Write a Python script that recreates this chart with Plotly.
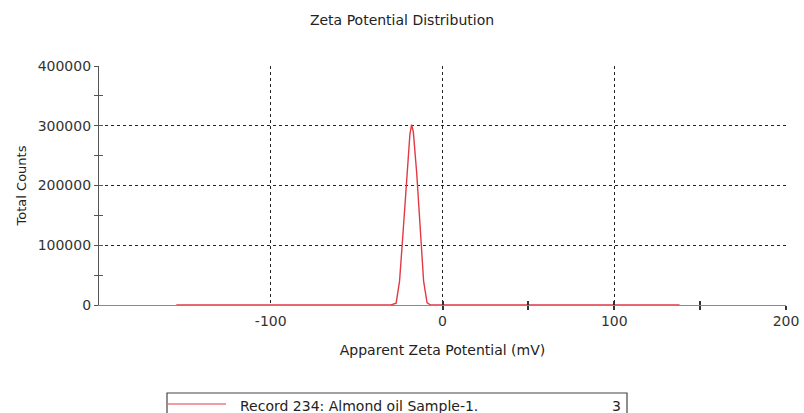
import plotly.graph_objects as go

# Data
zeta_mv = [-155, -40, -30, -27, -25, -23, -21, -19, -18, -17, -15, -13, -11, -9, -7, 0, 50, 100, 138]
counts = [0, 0, 0, 3000, 40000, 120000, 210000, 285000, 302000, 290000, 220000, 130000, 40000, 4000, 0, 0, 0, 0, 0]

x_tickvals = [-100, 0, 100, 200]
x_ticktext = ["-100", "0", "100", "200"]
x_marks = [0, 50, 100, 150, 200]
y_tickvals = [0, 100000, 200000, 300000, 400000]
y_ticktext = ["0", "100000", "200000", "300000", "400000"]

legend_name = "Record 234: Almond oil Sample-1."
legend_count = "3"

FONT = "DejaVu Sans, Verdana, sans-serif"
TXT = "#333333"
RED = "#e23a44"

fig = go.Figure()
fig.add_trace(go.Scatter(x=zeta_mv, y=counts, mode="lines",
                         line=dict(color=RED, width=1.4), name=legend_name,
                         showlegend=False))
# overlay axes for ticks crossing the axis lines
fig.add_trace(go.Scatter(x=[None], y=[None], xaxis="x2", yaxis="y2", showlegend=False))
fig.add_trace(go.Scatter(x=[None], y=[None], xaxis="x3", yaxis="y2", showlegend=False))

W, H = 804, 413
L, R, T, B = 99, 18, 66, 108
pw, ph = W - L - R, H - T - B

def px_x(px):
    return (px - L) / pw

def px_y(py):
    return (H - B - py) / ph

grid = dict(showgrid=True, gridcolor="#222222", griddash="dot", gridwidth=1.4)

fig.update_layout(
    width=W, height=H, margin=dict(l=L, r=R, t=T, b=B, autoexpand=False),
    paper_bgcolor="white", plot_bgcolor="white",
    font=dict(family=FONT, size=14, color=TXT),
    title=dict(text="Zeta Potential Distribution", x=0.5, xanchor="center",
               y=1 - 20 / H, yanchor="middle", font=dict(size=14, color="#222")),
    xaxis=dict(range=[-200, 200], tickvals=x_tickvals, ticktext=x_ticktext,
               showline=True, linecolor="#8a8a8a", linewidth=1.2,
               ticks="", zeroline=False, automargin=False, ticklabelstandoff=3,
               title=dict(text="Apparent Zeta Potential (mV)", standoff=17,
                          font=dict(size=14, color="#222")),
               tickfont=dict(size=14, color=TXT), **grid),
    yaxis=dict(range=[0, 400000], tickvals=y_tickvals, ticktext=y_ticktext,
               showline=True, linecolor="#555555", linewidth=1.2,
               ticks="outside", ticklen=4, tickcolor="#555", tickwidth=1,
               minor=dict(dtick=50000, ticks="outside", ticklen=4, tickcolor="#555", showgrid=False),
               zeroline=False, automargin=False,
               title=dict(text="Total Counts", standoff=8,
                          font=dict(size=13, color="#222")),
               tickfont=dict(size=14, color=TXT), **grid),
    xaxis2=dict(range=[-200, 200], overlaying="x", anchor="y2", side="bottom", showgrid=False,
                showticklabels=False, zeroline=False, tickvals=x_marks,
                ticks="inside", ticklen=4, tickcolor="#333", tickwidth=2),
    xaxis3=dict(range=[-200, 200], overlaying="x", anchor="y2", side="bottom", showgrid=False,
                showticklabels=False, zeroline=False, tickvals=x_marks,
                ticks="outside", ticklen=4, tickcolor="#333", tickwidth=2),
    yaxis2=dict(range=[0, 400000], overlaying="y", anchor="x", showgrid=False,
                showticklabels=False, zeroline=False, dtick=50000,
                ticks="inside", ticklen=4, tickcolor="#555", tickwidth=1),
)

# legend box drawn below the chart
fig.add_shape(type="rect", xref="paper", yref="paper",
              x0=px_x(167), x1=px_x(627), y0=px_y(430), y1=px_y(393),
              line=dict(color="#444444", width=1.2), fillcolor="rgba(0,0,0,0)")
fig.add_shape(type="line", xref="paper", yref="paper",
              x0=px_x(168), x1=px_x(226), y0=px_y(404), y1=px_y(404),
              line=dict(color=RED, width=1.2))
fig.add_annotation(xref="paper", yref="paper", x=px_x(238), y=px_y(406),
                   text=legend_name, showarrow=False, xanchor="left", yanchor="middle",
                   font=dict(size=14, color="#222"))
fig.add_annotation(xref="paper", yref="paper", x=px_x(616), y=px_y(406),
                   text=legend_count, showarrow=False, xanchor="center", yanchor="middle",
                   font=dict(size=14, color="#222"))

fig.write_html("out.html")
